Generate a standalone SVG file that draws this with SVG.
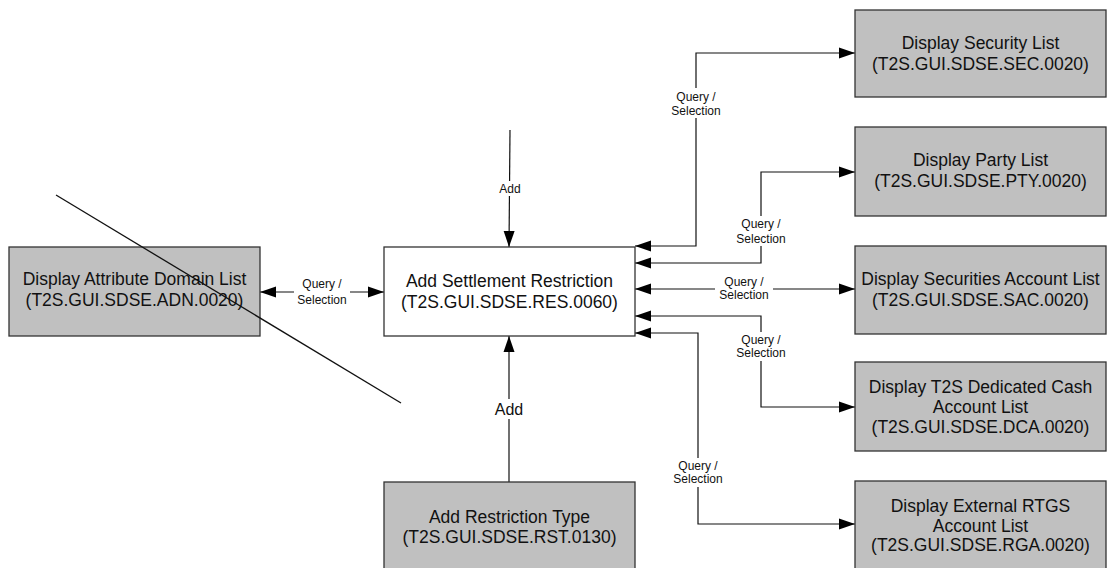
<svg xmlns="http://www.w3.org/2000/svg" width="1109" height="568" viewBox="0 0 1109 568">
<style>
.box{stroke:#333;stroke-width:1.3}
.g{fill:#c0c0c0}
.w{fill:#fff}
.t{font-family:"Liberation Sans",Arial,sans-serif;font-size:17.5px;fill:#111;text-anchor:middle}
.l{font-family:"Liberation Sans",Arial,sans-serif;font-size:12px;fill:#111;text-anchor:middle}
.c{fill:none;stroke:#111;stroke-width:1.2}
.bg{fill:#fff}
</style>
<defs>
<marker id="a" markerUnits="userSpaceOnUse" markerWidth="16" markerHeight="12" refX="16" refY="6" orient="auto-start-reverse" viewBox="0 0 16 12">
<path d="M0,0.5 L16,6 L0,11.5 Z" fill="#000"/>
</marker>
</defs>
<g id="connectors">
<polyline class="c" points="635,246 696,246 696,53 855,53" marker-start="url(#a)" marker-end="url(#a)"/>
<polyline class="c" points="635,263 761,263 761,172 855,172" marker-start="url(#a)" marker-end="url(#a)"/>
<line class="c" x1="635" y1="289" x2="855" y2="289" marker-start="url(#a)" marker-end="url(#a)"/>
<polyline class="c" points="635,316 761,316 761,407 855,407" marker-start="url(#a)" marker-end="url(#a)"/>
<polyline class="c" points="635,333 698,333 698,524 855,524" marker-start="url(#a)" marker-end="url(#a)"/>
<line class="c" x1="260" y1="292" x2="384" y2="292" marker-start="url(#a)" marker-end="url(#a)"/>
<line class="c" x1="510" y1="130" x2="509" y2="247" marker-end="url(#a)"/>
<line class="c" x1="509" y1="482" x2="509" y2="336" marker-end="url(#a)"/>
<rect class="bg" x="667" y="88" width="58" height="30"/>
<text class="l" x="696" y="101">Query /</text>
<text class="l" x="696" y="115">Selection</text>
<rect class="bg" x="732" y="216" width="58" height="30"/>
<text class="l" x="761" y="228">Query /</text>
<text class="l" x="761" y="243">Selection</text>
<rect class="bg" x="715" y="276" width="58" height="26"/>
<text class="l" x="744" y="286">Query /</text>
<text class="l" x="744" y="299">Selection</text>
<rect class="bg" x="732" y="332" width="58" height="29"/>
<text class="l" x="761" y="344">Query /</text>
<text class="l" x="761" y="357">Selection</text>
<rect class="bg" x="669" y="458" width="58" height="29"/>
<text class="l" x="698" y="470">Query /</text>
<text class="l" x="698" y="483">Selection</text>
<rect class="bg" x="294" y="276" width="56" height="30"/>
<text class="l" x="322" y="288">Query /</text>
<text class="l" x="322" y="304">Selection</text>
<rect class="bg" x="496" y="181" width="28" height="15"/>
<text class="l" x="510" y="193">Add</text>
<rect class="bg" x="492" y="399" width="34" height="20"/>
<text class="l" x="509" y="415" style="font-size:16px">Add</text>
</g>
<g id="n_adn">
<rect class="box g" x="9" y="247" width="251" height="89"/>
<text class="t" x="134.5" y="285">Display Attribute Domain List</text>
<text class="t" x="134.5" y="306">(T2S.GUI.SDSE.ADN.0020)</text>
</g>
<g id="n_res">
<rect class="box w" x="384" y="247" width="251" height="89"/>
<text class="t" x="509.5" y="287">Add Settlement Restriction</text>
<text class="t" x="509.5" y="308">(T2S.GUI.SDSE.RES.0060)</text>
</g>
<g id="n_rst">
<rect class="box g" x="384" y="482" width="251" height="90"/>
<text class="t" x="509.5" y="523">Add Restriction Type</text>
<text class="t" x="509.5" y="543">(T2S.GUI.SDSE.RST.0130)</text>
</g>
<g id="n_sec">
<rect class="box g" x="855" y="10" width="251" height="87"/>
<text class="t" x="980.5" y="49">Display Security List</text>
<text class="t" x="980.5" y="70">(T2S.GUI.SDSE.SEC.0020)</text>
</g>
<g id="n_pty">
<rect class="box g" x="855" y="127" width="251" height="89"/>
<text class="t" x="980.5" y="166">Display Party List</text>
<text class="t" x="980.5" y="187">(T2S.GUI.SDSE.PTY.0020)</text>
</g>
<g id="n_sac">
<rect class="box g" x="855" y="246" width="251" height="88"/>
<text class="t" x="980.5" y="285">Display Securities Account List</text>
<text class="t" x="980.5" y="306">(T2S.GUI.SDSE.SAC.0020)</text>
</g>
<g id="n_dca">
<rect class="box g" x="855" y="362" width="251" height="89"/>
<text class="t" x="980.5" y="393">Display T2S Dedicated Cash</text>
<text class="t" x="980.5" y="413">Account List</text>
<text class="t" x="980.5" y="433">(T2S.GUI.SDSE.DCA.0020)</text>
</g>
<g id="n_rga">
<rect class="box g" x="855" y="481" width="251" height="90"/>
<text class="t" x="980.5" y="512">Display External RTGS</text>
<text class="t" x="980.5" y="532">Account List</text>
<text class="t" x="980.5" y="551">(T2S.GUI.SDSE.RGA.0020)</text>
</g>
<line x1="56" y1="195" x2="401" y2="403" stroke="#111" stroke-width="1.3"/>
</svg>
